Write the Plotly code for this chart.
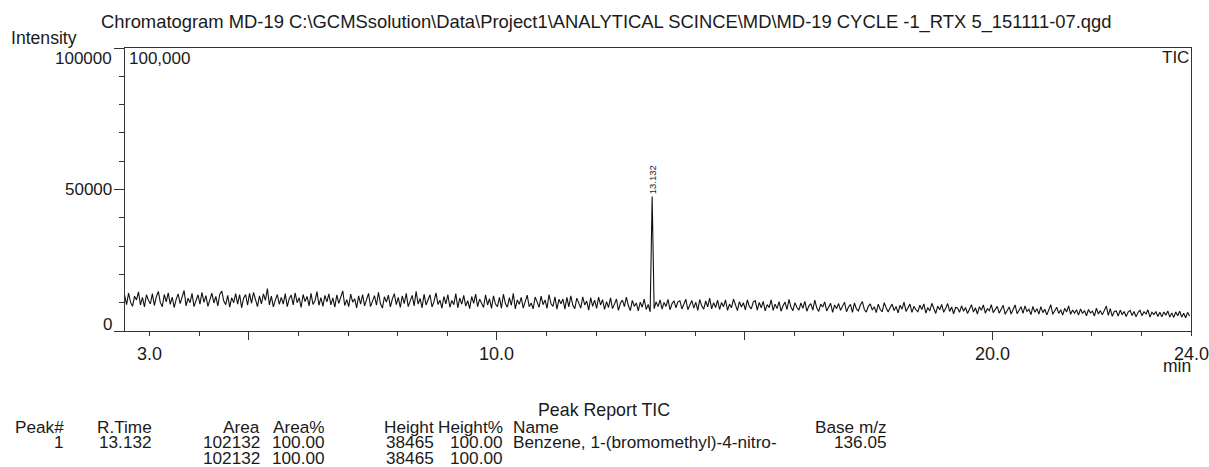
import plotly.graph_objects as go

# ---------------- data ----------------
scan_start_min = 2.492      # first scan time (min)
scan_step_min = 0.04        # scan interval (min)

tic_intensity = [
    12700, 9300, 13400, 10200, 8700, 12300, 11000, 13800, 9200, 11900, 8500, 12800, 10900, 9600, 13200, 9000, 12100, 14000, 10100, 8600,
    12900, 10300, 13500, 9400, 12000, 8300, 11200, 13100, 9700, 12400, 14300, 8900, 11600, 10000, 13300, 8600, 11000, 12800, 9500, 13700,
    10100, 12500, 8700, 11300, 13400, 9900, 12200, 8900, 13000, 14100, 10600, 9300, 12600, 8400, 11800, 10000, 13200, 9500, 12900, 8200,
    11600, 12900, 9100, 13300, 9800, 13600, 10700, 8600, 12400, 9600, 13100, 10800, 15000, 9200, 12300, 8500, 10900, 12900, 9400, 11900,
    9500, 13200, 8600, 11400, 12700, 9200, 13500, 10000, 11800, 8300, 12900, 10400, 12200, 8900, 13300, 9400, 10700, 13900, 9100, 11800,
    8700, 12600, 10300, 13100, 9200, 11700, 8400, 12800, 9800, 11800, 14200, 9000, 11100, 8600, 13000, 10200, 11400, 8200, 12400, 9500,
    12900, 8900, 11000, 13300, 8600, 10400, 12500, 9100, 13700, 9700, 8100, 12100, 10200, 12700, 8500, 11300, 13200, 9300, 11900, 8300,
    12400, 9700, 13300, 8600, 10600, 12600, 8900, 14000, 9500, 11500, 8200, 13000, 9200, 11100, 12800, 8500, 10400, 13500, 9400, 10900,
    8100, 12200, 9600, 12900, 8400, 10800, 9300, 13200, 8200, 11600, 9500, 12600, 8800, 10700, 7900, 12200, 9800, 13000, 8600, 11300,
    9600, 8300, 12800, 9200, 11400, 8000, 12400, 9500, 8600, 11900, 8100, 13000, 9700, 8400, 11800, 9100, 13300, 7800, 11000, 9400,
    11900, 8100, 10400, 12700, 8600, 9900, 7800, 12000, 10300, 8400, 12300, 9300, 11000, 8000, 12900, 9600, 8700, 12100, 7700, 11200,
    9600, 11300, 7700, 11900, 8500, 12400, 9100, 7900, 11600, 9800, 8100, 12100, 9200, 10600, 7400, 11800, 8700, 10900, 8000, 12000,
    9200, 11100, 7600, 10400, 8300, 11700, 7900, 9500, 11300, 7300, 9800, 10900, 8600, 12000, 9000, 7200, 10800, 8700, 9900, 7100,
    10200, 8400, 11300, 7600, 9400, 6800, 47500, 7900, 10300, 8600, 11000, 7700, 10100, 8700, 11200, 7500, 9600, 10700, 8200, 10300,
    10700, 7800, 9600, 11200, 7500, 9300, 10800, 8100, 10200, 7300, 11100, 8900, 7700, 10600, 8500, 11600, 7800, 10000, 8300, 10900,
    7600, 10100, 8600, 11000, 7300, 9500, 8200, 11300, 9000, 7200, 10400, 8500, 10000, 7500, 11000, 8700, 7800, 10300, 10700, 7400,
    10100, 8200, 10500, 7100, 9300, 8300, 11000, 7300, 9500, 7900, 10400, 7000, 8900, 10200, 7600, 11200, 8400, 7200, 10000, 8300,
    7400, 9900, 8000, 10500, 7000, 8800, 9700, 7400, 10900, 8200, 6900, 9500, 8500, 10300, 7100, 8700, 9800, 6600, 9200, 7900,
    9700, 7300, 8800, 10200, 6800, 8500, 9400, 6600, 9900, 7800, 7100, 9200, 10400, 7600, 6700, 8700, 9600, 7400, 8600, 6500,
    9500, 7600, 6800, 10000, 8200, 6700, 8300, 9500, 7200, 8700, 6400, 9100, 7700, 10200, 6900, 8200, 9500, 6600, 8700, 7500,
    6800, 9100, 7600, 9600, 6300, 8300, 7100, 9800, 7800, 6200, 8800, 7500, 9400, 6600, 8000, 9700, 6900, 8500, 6100, 8300,
    8100, 6600, 8900, 7000, 8300, 6200, 7700, 9300, 6700, 8200, 6000, 8600, 7300, 9200, 6300, 7900, 7200, 9300, 6500, 7800,
    8700, 6300, 7600, 9100, 5900, 7200, 8500, 6000, 7800, 9200, 6100, 7300, 8600, 6200, 8900, 6900, 7700, 5800, 8700, 6600,
    7900, 6000, 8600, 6500, 7700, 5700, 7800, 9300, 5900, 7100, 8400, 6200, 7500, 5600, 8000, 6700, 8900, 5900, 7400, 6300,
    7500, 5600, 7800, 6200, 7200, 5400, 7600, 6400, 7000, 5300, 8100, 6000, 7200, 5700, 7500, 8800, 5500, 7900, 5200, 6900,
    7100, 5300, 7400, 5800, 6900, 5100, 6700, 7300, 5500, 6900, 5000, 6600, 7300, 5400, 6800, 6000, 7500, 4900, 6600, 5800,
    6900, 5100, 6600, 5000, 6700, 5600, 7100, 4900, 6400, 4800, 6700, 5400, 7000, 4900, 6300, 4700, 6600, 5300,
]

peak_rt = 13.132
peak_top = 47500
peak_label = "13.132"

x_label_vals = [3.0, 10.0, 20.0, 24.0]
x_label_text = ["3.0", "10.0", "20.0", "24.0"]
y_label_vals = [0, 50000, 100000]
y_label_text = ["0", "50000", "100000"]
y_label_shift = [7, 0, -10]

title_text = ("Chromatogram MD-19 C:\\GCMSsolution\\Data\\Project1\\ANALYTICAL SCINCE\\MD\\"
              "MD-19 CYCLE -1_RTX 5_151111-07.qgd")

# peak report table
report_title = "Peak Report TIC"
col_headers = ["Peak#", "R.Time", "Area", "Area%", "Height", "Height%", "Name", "Base m/z"]
row1 = ["1", "13.132", "102132", "100.00", "38465", "100.00", "Benzene, 1-(bromomethyl)-4-nitro-", "136.05"]
row_total = ["", "", "102132", "100.00", "38465", "100.00", "", ""]

# ---------------- layout geometry ----------------
W, H = 1209, 467
PL, PR, PT, PB = 125, 1191, 48, 331
FONT = "Liberation Sans, Arial, Helvetica, sans-serif"
TXT = "#1a1a1a"


def px(x):
    return (x - PL) / (PR - PL)


def py(y):
    return (PB - y) / (PB - PT)


fig = go.Figure()
fig.add_trace(go.Scatter(
    x0=scan_start_min, dx=scan_step_min, y=tic_intensity,
    mode="lines", line=dict(color="#111111", width=1.1),
    hoverinfo="skip", showlegend=False,
))

ann = []


def text(x, y, s, size=17.5, xanchor="left", **kw):
    ann.append(dict(x=px(x), y=py(y), xref="paper", yref="paper", text=s, showarrow=False,
                    xanchor=xanchor, yanchor="middle", font=dict(family=FONT, size=size, color=TXT), **kw))


# title and axis captions
text(606, 22, title_text, size=18.4, xanchor="center")
text(9, 38, "Intensity", size=17.6)
text(127, 58, "100,000", size=17)
text(1191, 57, "TIC", size=17, xanchor="right")
text(1193, 366, "min", size=17.5, xanchor="right")

# y tick labels (on the y scale)
for v, t, s in zip(y_label_vals, y_label_text, y_label_shift):
    ann.append(dict(x=0, y=v, xref="paper", yref="y", text=t, showarrow=False,
                    xanchor="right", yanchor="middle", xshift=-11, yshift=s,
                    font=dict(family=FONT, size=17, color=TXT)))

# x tick labels (on the x scale)
for v, t in zip(x_label_vals, x_label_text):
    ann.append(dict(x=v, y=0, xref="x", yref="paper", text=t, showarrow=False,
                    xanchor="center", yanchor="middle", yshift=-23,
                    font=dict(family=FONT, size=18, color=TXT)))

# peak label
ann.append(dict(x=peak_rt, y=peak_top, xref="x", yref="y", text=peak_label, showarrow=False,
                textangle=-90, xanchor="center", yanchor="bottom", yshift=0,
                font=dict(family=FONT, size=9.5, color=TXT)))

# peak report table
text(604, 410, report_title, size=17.8, xanchor="center")
col_pos = [(66, "right"), (154, "right"), (262, "right"), (327, "right"),
           (436, "right"), (505, "right"), (511, "left"), (889, "right")]
for row, yy in ((col_headers, 427), (row1, 442), (row_total, 458)):
    for s, (xx, anc) in zip(row, col_pos):
        if s:
            text(xx, yy, s, size=17.2, xanchor=anc)

fig.update_layout(
    width=W, height=H,
    margin=dict(l=PL, r=W - PR, t=PT, b=H - PB, pad=0),
    paper_bgcolor="white", plot_bgcolor="white",
    showlegend=False, hovermode=False,
    annotations=ann,
    xaxis=dict(range=[2.5, 24.0], showgrid=False, zeroline=False,
               showline=True, linecolor="#333333", linewidth=1, mirror=True,
               tickmode="array", tickvals=[5, 10, 15, 20], ticks="outside", ticklen=8,
               tickcolor="#333333", tickwidth=1, showticklabels=False,
               minor=dict(dtick=1, tick0=0, ticks="outside", ticklen=4, tickcolor="#333333")),
    yaxis=dict(range=[0, 100000], showgrid=False, zeroline=False,
               showline=True, linecolor="#333333", linewidth=1, mirror=True,
               tickmode="array", tickvals=[0, 50000, 100000], ticks="outside", ticklen=10,
               tickcolor="#333333", tickwidth=1, showticklabels=False,
               minor=dict(dtick=10000, tick0=0, ticks="outside", ticklen=5, tickcolor="#333333")),
)

fig.write_html("out.html")
